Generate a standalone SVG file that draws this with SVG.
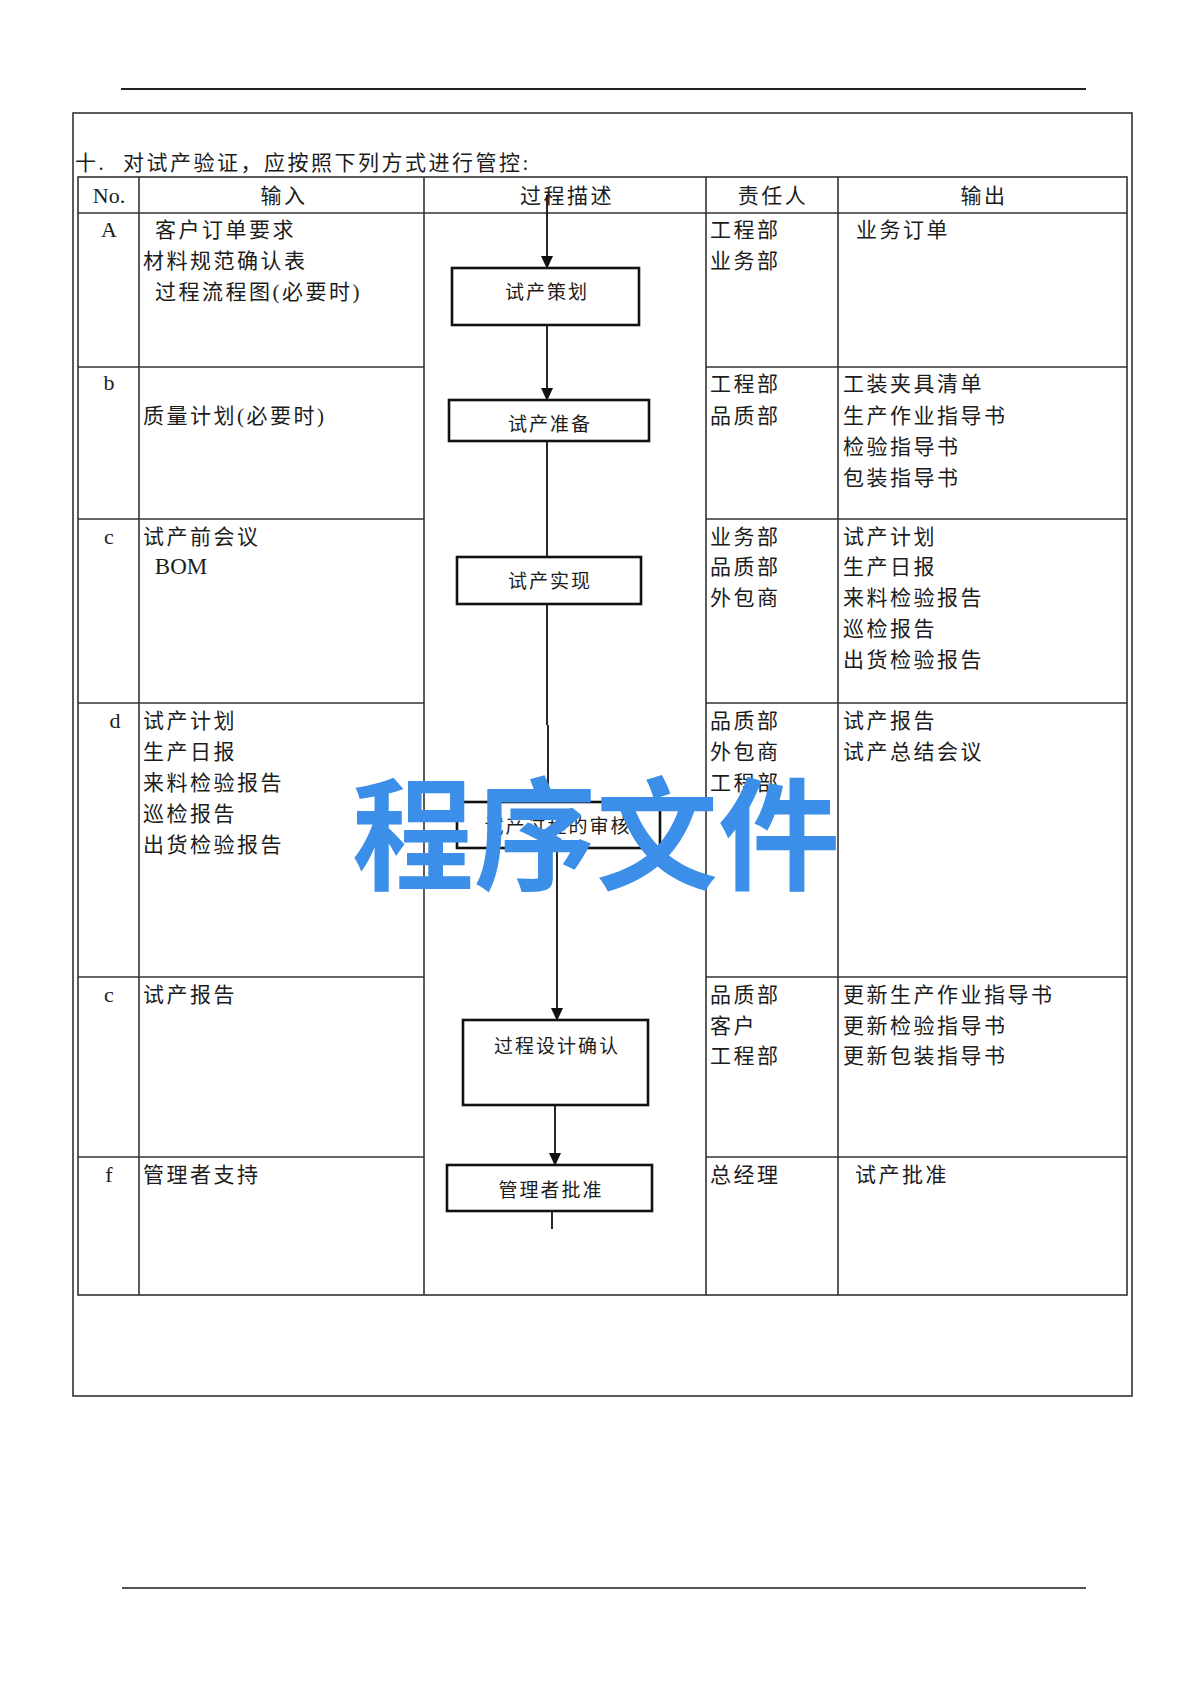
<svg xmlns="http://www.w3.org/2000/svg" width="1192" height="1684" viewBox="0 0 1192 1684">
<style>
.t{font-family:"Liberation Serif","Noto Sans CJK SC",serif;font-size:21px;letter-spacing:2.5px;fill:#1c1c1c}
.c{text-anchor:middle}
.lt{font-family:"Liberation Serif",serif;font-size:22px;fill:#1c1c1c;text-anchor:middle}
.f{font-family:"Noto Sans CJK SC",sans-serif;font-size:19px;letter-spacing:2px;fill:#1c1c1c;text-anchor:middle}
.box{fill:#fff;stroke:#111;stroke-width:2.6}
.grid{stroke:#333;stroke-width:1.6;fill:none}
.conn{stroke:#111;stroke-width:1.8;fill:none}
.wm{font-family:"Noto Sans CJK SC",sans-serif;font-weight:bold;font-size:122px;fill:#3b8fe8}
</style>
<defs>
<marker id="arr" markerUnits="userSpaceOnUse" markerWidth="14" markerHeight="12" refX="12" refY="6" orient="auto">
<path d="M0,0 L13,6 L0,12 z" fill="#111"/>
</marker>
</defs>
<rect width="1192" height="1684" fill="#fff"/>

<g id="page">
<line x1="121" y1="89" x2="1086" y2="89" stroke="#222" stroke-width="2"/>
<line x1="122" y1="1588" x2="1086" y2="1588" stroke="#555" stroke-width="2"/>
<rect x="73" y="113" width="1059" height="1283" fill="none" stroke="#333" stroke-width="1.6"/>
<text class="t" x="75" y="170">十.<tspan x="123">对试产验证，应按照下列方式进行管控:</tspan></text>
</g>

<g id="table">
<rect class="grid" x="78" y="177" width="1049" height="1118"/>
<line class="grid" x1="139" y1="177" x2="139" y2="1295" stroke-width="2.2" stroke="#111"/>
<line class="grid" x1="424" y1="177" x2="424" y2="1295"/>
<line class="grid" x1="706" y1="177" x2="706" y2="1295"/>
<line class="grid" x1="838" y1="177" x2="838" y2="1295"/>
<line class="grid" x1="78" y1="213" x2="1127" y2="213"/>
<line class="grid" x1="78" y1="367" x2="424" y2="367"/>
<line class="grid" x1="706" y1="367" x2="1127" y2="367"/>
<line class="grid" x1="78" y1="519" x2="424" y2="519"/>
<line class="grid" x1="706" y1="519" x2="1127" y2="519"/>
<line class="grid" x1="78" y1="703" x2="424" y2="703"/>
<line class="grid" x1="706" y1="703" x2="1127" y2="703"/>
<line class="grid" x1="78" y1="977" x2="424" y2="977"/>
<line class="grid" x1="706" y1="977" x2="1127" y2="977"/>
<line class="grid" x1="78" y1="1157" x2="424" y2="1157"/>
<line class="grid" x1="706" y1="1157" x2="1127" y2="1157"/>
</g>

<g id="header">
<text class="lt" x="109" y="203">No.</text>
<text class="t c" x="284" y="203">输入</text>
<text class="t c" x="567" y="203">过程描述</text>
<text class="t c" x="773" y="203">责任人</text>
<text class="t c" x="984" y="203">输出</text>
</g>

<g id="row-A">
<text class="lt" x="109" y="237">A</text>
<text class="t" x="155" y="237">客户订单要求</text>
<text class="t" x="143" y="268">材料规范确认表</text>
<text class="t" x="155" y="299">过程流程图(必要时)</text>
<text class="t" x="710" y="237">工程部</text>
<text class="t" x="710" y="268">业务部</text>
<text class="t" x="856" y="237">业务订单</text>
</g>

<g id="row-b">
<text class="lt" x="109" y="390">b</text>
<text class="t" x="143" y="423">质量计划(必要时)</text>
<text class="t" x="710" y="391">工程部</text>
<text class="t" x="710" y="423">品质部</text>
<text class="t" x="843" y="391">工装夹具清单</text>
<text class="t" x="843" y="423">生产作业指导书</text>
<text class="t" x="843" y="454">检验指导书</text>
<text class="t" x="843" y="485">包装指导书</text>
</g>

<g id="row-c">
<text class="lt" x="109" y="544">c</text>
<text class="t" x="143" y="544">试产前会议</text>
<text class="lt" x="181" y="574" style="font-size:23px">BOM</text>
<text class="t" x="710" y="544">业务部</text>
<text class="t" x="710" y="574">品质部</text>
<text class="t" x="710" y="605">外包商</text>
<text class="t" x="843" y="544">试产计划</text>
<text class="t" x="843" y="574">生产日报</text>
<text class="t" x="843" y="605">来料检验报告</text>
<text class="t" x="843" y="636">巡检报告</text>
<text class="t" x="843" y="667">出货检验报告</text>
</g>

<g id="row-d">
<text class="lt" x="115" y="728">d</text>
<text class="t" x="143" y="728">试产计划</text>
<text class="t" x="143" y="759">生产日报</text>
<text class="t" x="143" y="790">来料检验报告</text>
<text class="t" x="143" y="821">巡检报告</text>
<text class="t" x="143" y="852">出货检验报告</text>
<text class="t" x="710" y="728">品质部</text>
<text class="t" x="710" y="759">外包商</text>
<text class="t" x="710" y="790">工程部</text>
<text class="t" x="843" y="728">试产报告</text>
<text class="t" x="843" y="759">试产总结会议</text>
</g>

<g id="row-e">
<text class="lt" x="109" y="1002">c</text>
<text class="t" x="143" y="1002">试产报告</text>
<text class="t" x="710" y="1002">品质部</text>
<text class="t" x="710" y="1033">客户</text>
<text class="t" x="710" y="1063">工程部</text>
<text class="t" x="843" y="1002">更新生产作业指导书</text>
<text class="t" x="843" y="1033">更新检验指导书</text>
<text class="t" x="843" y="1063">更新包装指导书</text>
</g>

<g id="row-f">
<text class="lt" x="109" y="1182">f</text>
<text class="t" x="143" y="1182">管理者支持</text>
<text class="t" x="710" y="1182">总经理</text>
<text class="t" x="855" y="1182">试产批准</text>
</g>

<g id="connectors">
<line class="conn" x1="547" y1="195" x2="547" y2="268" marker-end="url(#arr)"/>
<line class="conn" x1="547" y1="325" x2="547" y2="400" stroke-width="3" marker-end="url(#arr)"/>
<line class="conn" x1="547" y1="441" x2="547" y2="557"/>
<line class="conn" x1="547" y1="604" x2="547" y2="725"/>
<line class="conn" x1="548" y1="725" x2="548" y2="802" stroke-width="2.6"/>
<line class="conn" x1="557" y1="848" x2="557" y2="1020" marker-end="url(#arr)"/>
<line class="conn" x1="555" y1="1105" x2="555" y2="1165" marker-end="url(#arr)"/>
<line class="conn" x1="552" y1="1211" x2="552" y2="1229"/>
</g>

<g id="node-plan">
<rect class="box" x="452" y="268" width="187" height="57"/>
<text class="f" x="547" y="299">试产策划</text>
</g>
<g id="node-prepare">
<rect class="box" x="449" y="400" width="200" height="41"/>
<text class="f" x="550" y="431">试产准备</text>
</g>
<g id="node-realize">
<rect class="box" x="457" y="557" width="184" height="47"/>
<text class="f" x="550" y="588">试产实现</text>
</g>
<g id="node-review">
<rect class="box" x="457" y="802" width="203" height="46" stroke-width="2"/>
<text class="f" x="558" y="833">试产过程的审核</text>
</g>
<g id="node-confirm">
<rect class="box" x="463" y="1020" width="185" height="85"/>
<text class="f" x="557" y="1053">过程设计确认</text>
</g>
<g id="node-approve">
<rect class="box" x="447" y="1165" width="205" height="46"/>
<text class="f" x="551" y="1197">管理者批准</text>
</g>

<g id="watermark">
<text class="wm" x="352" y="880">程序文件</text>
</g>
</svg>
